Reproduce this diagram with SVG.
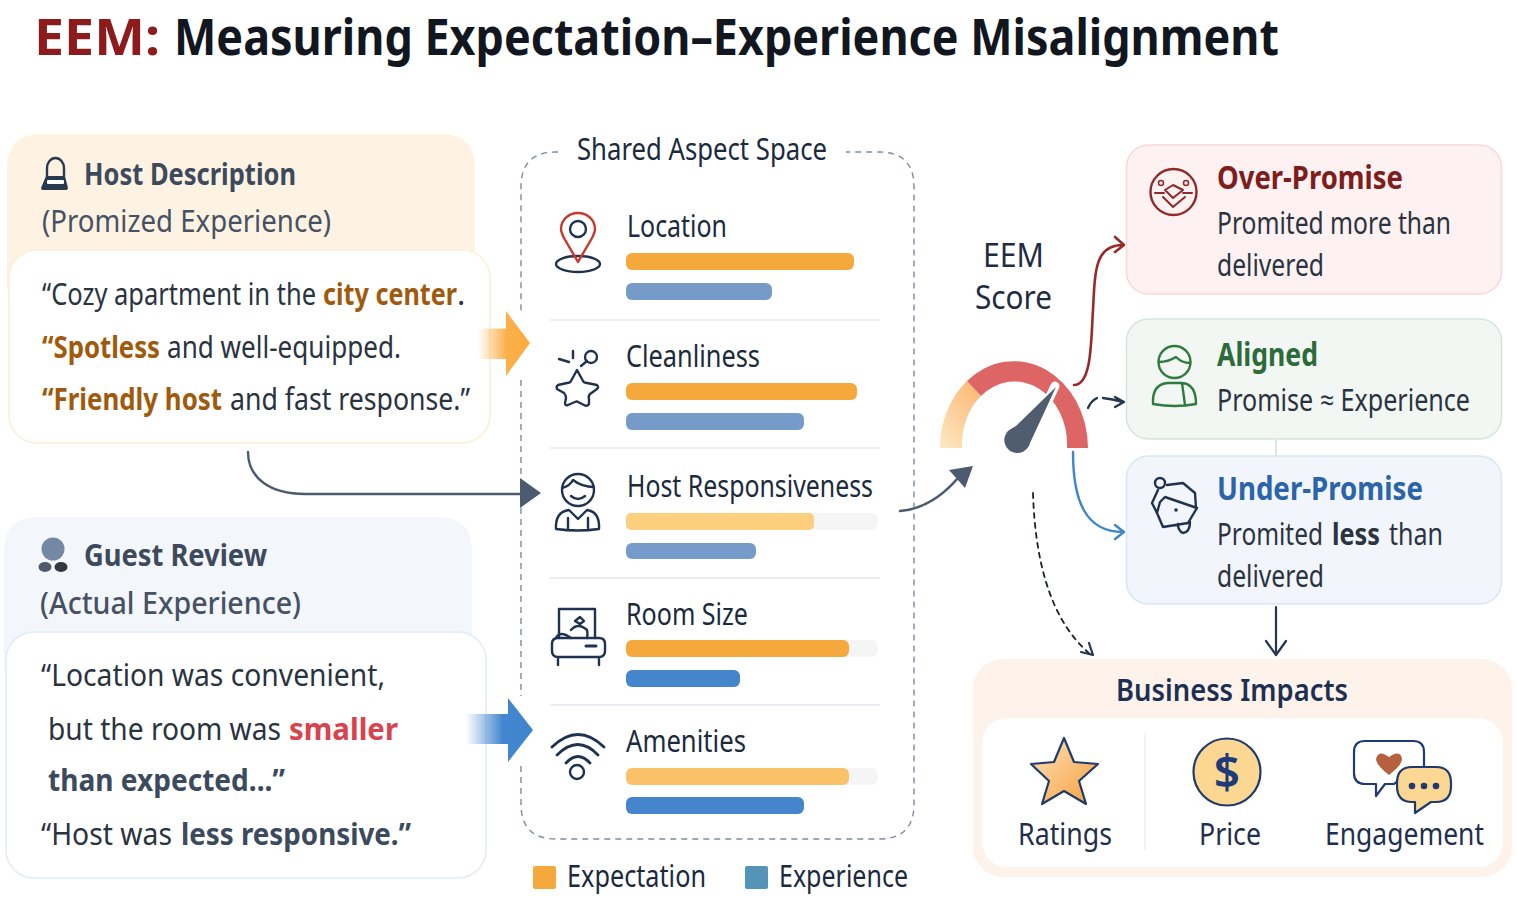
<svg xmlns="http://www.w3.org/2000/svg" width="1517" height="899" viewBox="0 0 1517 899">
<style>
text{font-family:"Noto Sans","Open Sans","Liberation Sans",sans-serif;fill:#263040}
.b{font-weight:700}
.sb{font-weight:600}
.q{font-size:31px;fill:#2a3340}
.am{font-weight:700;fill:#a05a0c}
.sl{font-weight:700;fill:#3c4a5e}
.h{font-size:31px;font-weight:700;fill:#3d4a5c}
.sub{font-size:31px;fill:#465264}
.asp{font-size:30px;fill:#1c2a3e}
.ct{font-size:33px;font-weight:700}
.cb{font-size:30px;fill:#2a3340}
.lbl{font-size:30px;fill:#1f2f4d}
.ic{fill:none;stroke:#1f3350;stroke-width:2.4;stroke-linecap:round;stroke-linejoin:round}
.or{fill:#f5a83c}.ol{fill:#fccf7e}.om{fill:#fbc168}
.bl{fill:#769bc8}.bd{fill:#4585cb}
.tr{fill:#f5f5f6}
.sep{stroke:#e6e9f0;stroke-width:1.6}
.con{fill:none;stroke-linecap:round;stroke-linejoin:round}
</style>
<defs>
<linearGradient id="ga" x1="0" x2="1"><stop offset="0" stop-color="#fbb04a" stop-opacity="0"/><stop offset=".55" stop-color="#fbb04a"/><stop offset="1" stop-color="#fbab3e"/></linearGradient>
<linearGradient id="gb" x1="0" x2="1"><stop offset="0" stop-color="#4287cf" stop-opacity="0"/><stop offset=".55" stop-color="#4287cf"/><stop offset="1" stop-color="#3f84cb"/></linearGradient>
<linearGradient id="gg" x1="0" y1="1" x2=".6" y2="0"><stop offset="0" stop-color="#fde8c4"/><stop offset="1" stop-color="#fbbd7c"/></linearGradient>
<linearGradient id="gs" x1="0" y1="0" x2="1" y2="1"><stop offset="0" stop-color="#fde3b8"/><stop offset="1" stop-color="#f79f3e"/></linearGradient>
</defs>
<rect width="1517" height="899" fill="#fff"/>

<g id="title">
<text x="34" y="55" font-size="50" class="b" style="fill:#8e1b1b" textLength="126" lengthAdjust="spacingAndGlyphs">EEM:</text>
<text x="174" y="55" font-size="50" class="b" style="fill:#11161f" textLength="1105" lengthAdjust="spacingAndGlyphs">Measuring Expectation–Experience Misalignment</text>
</g>

<g id="host-description">
<path d="M7 290V168Q7 134 41 134H441Q475 134 475 168V290Z" fill="#fef3e3"/>
<rect x="9" y="250" width="481" height="193" rx="28" fill="#fff" stroke="#fdeed8" stroke-width="1.500"/>
<path d="M47 176V168a8.500 10 0 0 1 17 0V176" class="ic" style="stroke:#2a3a4e"/>
<path d="M46 176H65L68 188Q68 190 66 190H44Q41 190 41 188Z" fill="#2a3a4e"/>
<rect x="47" y="180" width="17" height="4" rx="1" fill="#fff"/>
<text x="84" y="185" class="h" textLength="212" lengthAdjust="spacingAndGlyphs">Host Description</text>
<text x="42" y="232" class="sub" textLength="289" lengthAdjust="spacingAndGlyphs">(Promized Experience)</text>
<text transform="translate(42,305) scale(.78,1)" class="q" textLength="351.300" lengthAdjust="spacingAndGlyphs">“Cozy apartment in the</text>
<text transform="translate(323,305) scale(.78,1)" class="q am" textLength="171.800" lengthAdjust="spacingAndGlyphs">city center</text>
<text x="457" y="305" class="q">.</text>
<text transform="translate(42,358) scale(.78,1)" class="q am" textLength="151.300" lengthAdjust="spacingAndGlyphs">“Spotless</text>
<text x="167" y="358" class="q" textLength="234" lengthAdjust="spacingAndGlyphs">and well-equipped.</text>
<text transform="translate(42,410) scale(.78,1)" class="q am" textLength="230.800" lengthAdjust="spacingAndGlyphs">“Friendly host</text>
<text x="230" y="410" class="q" textLength="240" lengthAdjust="spacingAndGlyphs">and fast response.”</text>
</g>

<g id="guest-review">
<path d="M4 670V551Q4 517 38 517H438Q472 517 472 551V670Z" fill="#f3f6fb"/>
<rect x="6" y="632" width="480" height="246" rx="28" fill="#fff" stroke="#e1ebf8" stroke-width="1.500"/>
<circle cx="53" cy="549" r="11.500" fill="#7488a5"/>
<ellipse cx="45" cy="567" rx="6.500" ry="5" fill="#4f5a69"/>
<ellipse cx="61" cy="567" rx="6.500" ry="5" fill="#33383f"/>
<text x="84" y="566" class="h" textLength="183" lengthAdjust="spacingAndGlyphs">Guest Review</text>
<text x="40" y="614" class="sub" style="font-weight:500" textLength="261" lengthAdjust="spacingAndGlyphs">(Actual Experience)</text>
<text x="41" y="686" class="q" textLength="344" lengthAdjust="spacingAndGlyphs">“Location was convenient,</text>
<text transform="translate(48,740) scale(.78,1)" class="q" textLength="298.700" lengthAdjust="spacingAndGlyphs">but the room was</text>
<text x="289" y="740" class="q b" style="fill:#d9434e" textLength="109" lengthAdjust="spacingAndGlyphs">smaller</text>
<text x="48" y="791" class="q sl" textLength="237" lengthAdjust="spacingAndGlyphs">than expected...”</text>
<text transform="translate(41,845) scale(.78,1)" class="q" textLength="167.900" lengthAdjust="spacingAndGlyphs">“Host was</text>
<text x="181" y="845" class="q sl" textLength="230" lengthAdjust="spacingAndGlyphs">less responsive.”</text>
</g>

<g id="shared-aspect-space">
<path d="M558 152H556Q521 152 521 187V312M521 380V482M521 508V696M521 766V804Q521 839 556 839H879Q914 839 914 804V187Q914 152 879 152H846" fill="none" stroke="#7d8aa5" stroke-width="1.400" stroke-dasharray="6 5"/>
<text x="577" y="160" class="asp" textLength="250" lengthAdjust="spacingAndGlyphs">Shared Aspect Space</text>
<line class="sep" x1="550" y1="320" x2="880" y2="320"/>
<line class="sep" x1="550" y1="448" x2="880" y2="448"/>
<line class="sep" x1="550" y1="578" x2="880" y2="578"/>
<line class="sep" x1="550" y1="705" x2="880" y2="705"/>
<g id="location">
<ellipse cx="578" cy="264" rx="22" ry="8" class="ic"/>
<path d="M578 262L564 238Q561 232 561 229A17 16 0 0 1 595 229Q595 232 592 238Z" class="ic" style="stroke:#c9372c"/>
<circle cx="578" cy="229" r="8" class="ic"/>
<text x="627" y="237" class="asp" textLength="100" lengthAdjust="spacingAndGlyphs">Location</text>
<rect x="626" y="253" width="228" height="17" rx="6" class="or"/>
<rect x="626" y="283" width="146" height="17" rx="6" class="bl"/>
</g>
<g id="cleanliness">
<path d="M577 370L583 381Q584 383 587 383L597 385Q599 387 597 389L590 394Q588 396 589 399L589 404Q587 407 584 405L578 402Q577 401 575 402L568 405Q565 406 565 403L566 398Q566 395 564 393L557 389Q556 386 558 385L567 383Q570 383 571 381Z" class="ic"/>
<path d="M573 351V358M559 359L569 362M581 366L587 361" class="ic"/>
<circle cx="591" cy="357" r="6" class="ic"/>
<text x="626" y="367" class="asp" textLength="134" lengthAdjust="spacingAndGlyphs">Cleanliness</text>
<rect x="626" y="383" width="231" height="17" rx="6" class="or"/>
<rect x="626" y="413" width="178" height="17" rx="6" class="bl"/>
</g>
<g id="host-responsiveness">
<circle cx="578" cy="490" r="16" class="ic"/>
<path d="M562 488Q570 486 573 480Q582 487 594 487M571 496Q578 502 585 496" class="ic"/>
<path d="M556 529Q555 512 569 510L578 519L587 510Q600 512 599 529Q578 532 556 529ZM568 518V528M588 518V528" class="ic"/>
<text x="627" y="497" class="asp" textLength="246" lengthAdjust="spacingAndGlyphs">Host Responsiveness</text>
<rect x="626" y="513" width="252" height="17" rx="7" class="tr"/>
<rect x="626" y="513" width="188" height="17" rx="5" class="ol"/>
<rect x="626" y="543" width="130" height="16" rx="6" class="bl"/>
</g>
<g id="room-size">
<path d="M559 638V609H595V638" class="ic"/>
<path d="M552 644Q552 638 558 638H599Q605 638 605 644V651Q605 657 599 657H558Q552 657 552 651ZM558 657V665M599 657V665" class="ic"/>
<path d="M586 646H596" class="ic" style="stroke-width:3"/>
<path d="M556 638Q560 630 571 638M571 630Q578 622 587 630Q588 634 587 638M575 621L580 617L584 621L580 624Z" class="ic"/>
<text x="626" y="625" class="asp" textLength="122" lengthAdjust="spacingAndGlyphs">Room Size</text>
<rect x="626" y="640" width="252" height="17" rx="7" class="tr"/>
<rect x="626" y="640" width="223" height="17" rx="6" class="or"/>
<rect x="626" y="670" width="114" height="17" rx="6" class="bd"/>
</g>
<g id="amenities">
<path d="M552 747Q578 722 604 747M557 755Q578 734 598 755M566 763Q578 750 590 763" class="ic" style="stroke-width:2.800"/>
<circle cx="577" cy="772" r="7" class="ic"/>
<text x="626" y="752" class="asp" textLength="120" lengthAdjust="spacingAndGlyphs">Amenities</text>
<rect x="626" y="768" width="252" height="17" rx="7" class="tr"/>
<rect x="626" y="768" width="223" height="17" rx="6" class="om"/>
<rect x="626" y="797" width="178" height="17" rx="6" class="bd"/>
</g>
</g>

<g id="legend">
<rect x="533" y="866" width="23" height="23" rx="2" fill="#f5a83c"/>
<text x="567" y="887" class="asp" textLength="139" lengthAdjust="spacingAndGlyphs">Expectation</text>
<rect x="745" y="866" width="23" height="23" rx="2" fill="#5593b8"/>
<text x="779" y="887" class="asp" textLength="129" lengthAdjust="spacingAndGlyphs">Experience</text>
</g>

<g id="eem-score">
<text x="983" y="267" font-size="33" style="fill:#1f2c42" textLength="61" lengthAdjust="spacingAndGlyphs">EEM</text>
<text x="975" y="309" font-size="33" style="fill:#1f2c42" textLength="77" lengthAdjust="spacingAndGlyphs">Score</text>
<path d="M940 448A74 87 0 0 1 967 381L981 396A52.500 63 0 0 0 962 448Z" fill="url(#gg)"/>
<path d="M967 381A74 87 0 0 1 1088 448H1067A52.500 63 0 0 0 981 396Z" fill="#dd6565"/>
<path d="M1055 386L1028 444" stroke="#fff" stroke-width="9" stroke-linecap="round"/>
<path d="M1056 387L1030 443A13 13 0 1 1 1008 431Q1012 428 1016 426Z" fill="#505d6e"/>
</g>

<g id="connectors">
<path d="M478 328.500H506V311L530 343L506 376V359H478Z" fill="url(#ga)"/>
<path d="M466 714H508V698L533 730L508 762V744H466Z" fill="url(#gb)"/>
<path d="M248 452C248 478 270 494 305 494H522" class="con" stroke="#4c5b70" stroke-width="2.400"/>
<path d="M541 493L520 478V508Z" fill="#4c5b70"/>
<path d="M900 511C925 509 945 493 958 478" class="con" stroke="#4c5b70" stroke-width="2.600"/>
<path d="M973 466L949 470L965 488Z" fill="#4c5b70"/>
<path d="M1074 385C1092 385 1091 340 1093 310C1095 270 1095 245 1123 245M1115 237L1124 245L1115 252" class="con" stroke="#962a2a" stroke-width="2.600"/>
<path d="M1088 408Q1091 401 1097 398M1103 398Q1112 399 1123 402M1115 397L1124 402L1115 407" class="con" stroke="#263650" stroke-width="2.400"/>
<path d="M1073 452C1073 500 1085 532 1123 532M1115 525L1124 532L1115 539" class="con" stroke="#3d85cc" stroke-width="2.400"/>
<path d="M1033 493C1035 560 1050 620 1090 654" class="con" stroke="#1a2230" stroke-width="1.800" stroke-dasharray="5 5"/>
<path d="M1081 652L1093 655L1089 643" class="con" stroke="#263650" stroke-width="2.200"/>
<path d="M1276 439V456" class="con" stroke="#cfe0d8" stroke-width="1.500"/>
<path d="M1276 607V654M1266 641L1276 655L1286 641" class="con" stroke="#263650" stroke-width="2.200"/>
</g>

<g id="over-promise">
<rect x="1126.500" y="145" width="375" height="149" rx="22" fill="#fdf1f2" stroke="#f9d8da" stroke-width="1.500"/>
<circle cx="1173.500" cy="192" r="23" class="ic" style="stroke:#8e2a2a"/>
<path d="M1155 193H1164M1183 193H1192M1165 190L1173 185L1183 190L1173 198ZM1163 197L1173 207L1185 197" class="ic" style="stroke:#8e2a2a;stroke-width:2"/>
<circle cx="1161" cy="183" r="2.500" class="ic" style="stroke:#8e2a2a;stroke-width:1.500"/>
<circle cx="1186" cy="183" r="2.500" class="ic" style="stroke:#8e2a2a;stroke-width:1.500"/>
<text x="1217" y="189" class="ct" style="fill:#7f1d1d" textLength="186" lengthAdjust="spacingAndGlyphs">Over-Promise</text>
<text x="1217" y="234" class="cb" textLength="234" lengthAdjust="spacingAndGlyphs">Promited more than</text>
<text x="1217" y="276" class="cb" textLength="107" lengthAdjust="spacingAndGlyphs">delivered</text>
</g>

<g id="aligned">
<rect x="1126.500" y="319" width="375" height="120" rx="22" fill="#f2f7f3" stroke="#d6e5da" stroke-width="1.500"/>
<circle cx="1174.500" cy="362" r="16" class="ic" style="stroke:#2f7a3e"/>
<path d="M1159 362Q1168 362 1176 357Q1182 363 1190 363" class="ic" style="stroke:#2f7a3e"/>
<path d="M1153 404Q1152 384 1168 383H1182Q1196 384 1196 404Q1175 408 1153 404ZM1182 383L1185 405" class="ic" style="stroke:#2f7a3e"/>
<text x="1217" y="366" class="ct" style="fill:#2e6b3a" textLength="101" lengthAdjust="spacingAndGlyphs">Aligned</text>
<text x="1217" y="411" class="cb" textLength="253" lengthAdjust="spacingAndGlyphs">Promise ≈ Experience</text>
</g>

<g id="under-promise">
<rect x="1126.500" y="456" width="375" height="148" rx="22" fill="#f2f5fb" stroke="#dae5f5" stroke-width="1.500"/>
<circle cx="1160" cy="483" r="5" class="ic"/>
<path d="M1167 485L1183 483L1195 493L1196 508M1158 490L1152 503L1157 513L1160 502L1165 497L1197 508L1188 523L1163 527L1157 513M1178 524Q1178 531 1183 533Q1190 532 1190 522" class="ic"/>
<circle cx="1176" cy="510" r="1.800" fill="#1f3350"/>
<text x="1217" y="500" class="ct" style="fill:#2b64a8" textLength="206" lengthAdjust="spacingAndGlyphs">Under-Promise</text>
<text transform="translate(1217,545) scale(.78,1)" class="cb" textLength="135.900" lengthAdjust="spacingAndGlyphs">Promited</text>
<text transform="translate(1332,545) scale(.78,1)" class="cb b" textLength="61.500" lengthAdjust="spacingAndGlyphs">less</text>
<text x="1389" y="545" class="cb" textLength="54" lengthAdjust="spacingAndGlyphs">than</text>
<text x="1217" y="587" class="cb" textLength="107" lengthAdjust="spacingAndGlyphs">delivered</text>
</g>

<g id="business-impacts">
<rect x="973" y="659" width="539" height="218" rx="30" fill="#fdf3ea"/>
<rect x="982" y="718" width="521" height="149" rx="25" fill="#fff"/>
<line x1="1145" y1="733" x2="1145" y2="850" stroke="#eceef1" stroke-width="1.500"/>
<text x="1116" y="701" font-size="30" class="sb" style="fill:#1d2f52" textLength="232" lengthAdjust="spacingAndGlyphs">Business Impacts</text>
<g id="ratings">
<path d="M1064 738L1074 762L1098 764L1079 781L1086 804L1064 791L1042 804L1049 781L1031 764L1054 762Z" fill="url(#gs)" stroke="#1f3a6e" stroke-width="2.200" stroke-linejoin="round"/>
<text x="1018" y="845" class="lbl" textLength="94" lengthAdjust="spacingAndGlyphs">Ratings</text>
</g>
<g id="price">
<circle cx="1227" cy="772" r="33.500" fill="#fcd791" stroke="#1f3a6e" stroke-width="2.200"/>
<text x="1227" y="789" font-size="46" class="sb" text-anchor="middle" style="fill:#1f3a78">$</text>
<text x="1199" y="845" class="lbl" textLength="62" lengthAdjust="spacingAndGlyphs">Price</text>
</g>
<g id="engagement">
<path d="M1365 741H1413Q1424 741 1424 752V772H1408L1394 784H1385L1376 796V784H1365Q1354 784 1354 773V752Q1354 741 1365 741Z" fill="#fff" stroke="#1f3a78" stroke-width="2.200" stroke-linejoin="round"/>
<path d="M1389 775Q1376 765 1376 759Q1378 752 1384 754L1389 757L1394 754Q1401 752 1402 759Q1402 765 1389 775Z" fill="#b5603f"/>
<path d="M1412 767H1436Q1451 767 1451 783V786Q1451 802 1436 802H1431L1415 813V802H1412Q1397 802 1397 786V783Q1397 767 1412 767Z" fill="#fcd791" stroke="#1f3a6e" stroke-width="2.200" stroke-linejoin="round"/>
<circle cx="1412" cy="786" r="3.300" fill="#1f3a6e"/>
<circle cx="1424" cy="786" r="3.300" fill="#1f3a6e"/>
<circle cx="1436" cy="786" r="3.300" fill="#1f3a6e"/>
<text x="1325" y="845" class="lbl" textLength="159" lengthAdjust="spacingAndGlyphs">Engagement</text>
</g>
</g>
</svg>
